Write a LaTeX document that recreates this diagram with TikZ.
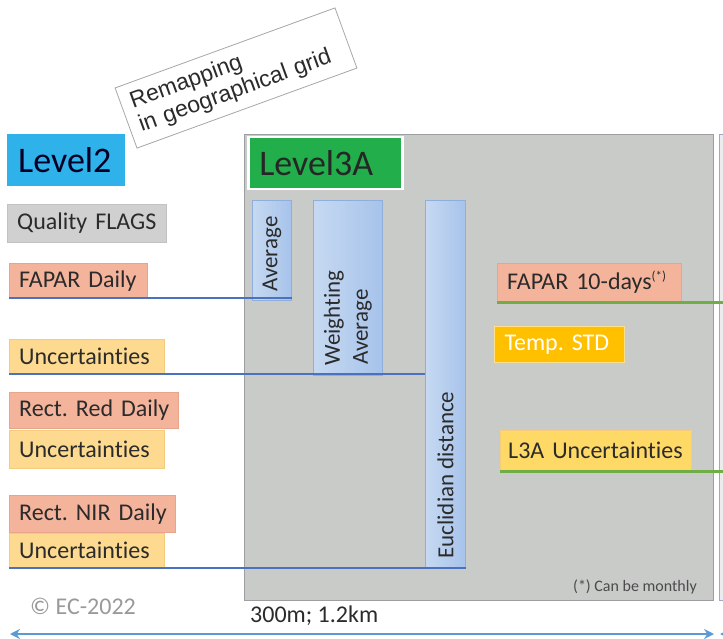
\documentclass[tikz,border=0pt]{standalone}
\usepackage{fontspec}
\setmainfont{Carlito}[Ligatures=NoCommon]
\newfontfamily\arialfont{Liberation Sans}
\usetikzlibrary{arrows.meta}
\frenchspacing
\hbadness=10000
\hfuzz=50pt

\definecolor{lvltwo}{HTML}{2FB2EA}
\definecolor{lvlthree}{HTML}{21AE4B}
\definecolor{flaggray}{HTML}{D0D0D0}
\definecolor{flagedge}{HTML}{C2C2C2}
\definecolor{salmon}{HTML}{F4B49C}
\definecolor{salmonedge}{HTML}{E9A58B}
\definecolor{uncfill}{HTML}{FDDA8F}
\definecolor{uncedge}{HTML}{F3CC80}
\definecolor{tempfill}{HTML}{FFC000}
\definecolor{tempedge}{HTML}{FFE08A}
\definecolor{l3afill}{HTML}{FFD966}
\definecolor{panelfill}{HTML}{C8CBC8}
\definecolor{paneledge}{HTML}{9C9EA2}
\definecolor{barleft}{HTML}{C6D9F1}
\definecolor{barright}{HTML}{A7C3EB}
\definecolor{baredge}{HTML}{8FAEDC}
\definecolor{linkblue}{HTML}{4A72C0}
\definecolor{linkgreen}{HTML}{70AD47}
\definecolor{scaleblue}{HTML}{5B9BD5}
\definecolor{textdark}{HTML}{2B2B2B}
\definecolor{nextedge}{HTML}{A4A4CC}

\tikzset{
  lbl/.style={anchor=north west, inner xsep=10pt, inner ysep=0pt, align=left,
    text=textdark, font=\fontsize{24}{28}\selectfont},
  titlebox/.style={anchor=north west, inner xsep=11pt, inner ysep=0pt, align=left,
    minimum height=52pt, font=\fontsize{36}{40}\selectfont},
  opbar/.style={anchor=north west, draw=baredge, line width=0.8pt,
    left color=barleft, right color=barright},
  bartext/.style={rotate=90, anchor=west, inner sep=0pt, align=left,
    text=textdark, font=\fontsize{23}{26}\selectfont},
  inlink/.style={linkblue, line width=2pt},
  outlink/.style={linkgreen, line width=2.2pt},
  scalebar/.style={scaleblue, line width=1.8pt},
}

\begin{document}
\begin{tikzpicture}[x=1pt, y=-1pt]
\useasboundingbox (0,0) rectangle (723,639);
\clip (0,0) rectangle (723,639);

% Level 3A processing panel and the start of the next panel
\node[draw=paneledge, fill=panelfill, line width=1pt, anchor=north west,
  minimum width=469pt, minimum height=466pt, inner sep=0pt] (panel) at (244,134) {};
\node[draw=nextedge, fill=gray!15, line width=1pt, anchor=north west,
  minimum width=60pt, minimum height=466pt, inner sep=0pt] (nextpanel) at (719,134) {};

% Remapping label
\node[draw=gray!70, fill=white, line width=0.8pt, rotate=20,
  minimum width=234pt, minimum height=64pt, text width=214pt, inner xsep=10pt,
  align=left, font=\arialfont\fontsize{23}{25}\selectfont, text=textdark]
  (remap) at (236,78) {Remapping\\in geographical grid};

% Level 2 inputs
\node[titlebox, fill=lvltwo, text=black!85!blue, minimum width=118pt, text width=96pt]
  (l2) at (7,134) {\mbox{Level2}};
\node[lbl, fill=flaggray, draw=flagedge, minimum height=38pt, text width=139pt]
  (flags) at (7,204) {\mbox{Quality FLAGS}};
\node[lbl, fill=salmon, draw=salmonedge, minimum height=35pt, text width=118pt]
  (fapard) at (9,263) {\mbox{FAPAR Daily}};
\node[lbl, fill=uncfill, draw=uncedge, minimum height=35pt, text width=135pt]
  (unca) at (9,339) {\mbox{Uncertainties}};
\node[lbl, fill=salmon, draw=salmonedge, minimum height=36pt, text width=149pt]
  (red) at (9,392) {\mbox{Rect. Red Daily}};
\node[lbl, fill=uncfill, draw=uncedge, minimum height=38pt, text width=135pt]
  (uncb) at (9,430) {\mbox{Uncertainties}};
\node[lbl, fill=salmon, draw=salmonedge, minimum height=37pt, text width=146pt]
  (nir) at (9,495) {\mbox{Rect. NIR Daily}};
\node[lbl, fill=uncfill, draw=uncedge, minimum height=35pt, text width=135pt]
  (uncc) at (9,533) {\mbox{Uncertainties}};

% Level 3A title
\node[titlebox, fill=lvlthree, draw=white, line width=2.5pt, text=black!85,
  minimum width=154pt, text width=132pt] (l3) at (247,136) {\mbox{Level3A}};

% Compositing operators
\node[opbar, minimum width=39pt, minimum height=100pt] (avg) at (252,200) {};
\node[bartext] at ([yshift=9pt]avg.south) {Average};
\node[opbar, minimum width=69pt, minimum height=175pt] (wavg) at (313,200) {};
\node[bartext, font=\fontsize{23}{28}\selectfont] at ([yshift=10pt]wavg.south) {Weighting\\\hspace*{1pt}Average};
\node[opbar, minimum width=40pt, minimum height=368pt] (eucl) at (425,200) {};
\node[bartext] at ([yshift=10pt]eucl.south) {Euclidian distance};

% Level 3A outputs
\node[lbl, fill=salmon, draw=salmonedge, minimum height=38pt, text width=164pt]
  (fapart) at (497,263) {\mbox{FAPAR 10-days\textsuperscript{\fontsize{13}{13}\selectfont(*)}}};
\node[lbl, fill=tempfill, draw=tempedge, line width=1pt, minimum height=36pt,
  text width=110pt, text=white] (tstd) at (494,326) {\mbox{Temp. STD}};
\node[lbl, fill=l3afill, draw=uncedge, minimum height=40pt, inner xsep=8pt,
  text width=175pt] (l3unc) at (500,430) {\mbox{L3A Uncertainties}};
\node[anchor=east, inner sep=0pt, text=textdark!85, font=\fontsize{16}{18}\selectfont]
  (note) at (697,587) {(*) Can be monthly};

% Links from inputs to operators
\draw[inlink] (fapard.south west) -- (fapard.south west -| avg.south east);
\draw[inlink] (unca.south west) -- (unca.south west -| eucl.west);
\draw[inlink] (uncc.south west) -- (uncc.south west -| eucl.south east);

% Links from outputs to the next level
\coordinate (outa) at (730,302);
\coordinate (outb) at (730,472);
\draw[outlink] ([yshift=-1pt]fapart.south west) -- ([yshift=-1pt]fapart.south west -| outa);
\draw[outlink] ([yshift=-1pt]l3unc.south west) -- ([yshift=-1pt]l3unc.south west -| outb);

% Resolution scale
\node[anchor=west, inner sep=0pt, text=gray!80, font=\fontsize{24}{28}\selectfont]
  (copy) at (30,606) {© EC-2022};
\node[anchor=west, inner sep=0pt, text=textdark, font=\fontsize{24}{28}\selectfont]
  (res) at (250,616) {300m; 1.2km};
\coordinate (sa) at (10,634);
\coordinate (sb) at (714,634);
\coordinate (sc) at (720,634);
\coordinate (sd) at (790,634);
\draw[scalebar, {Stealth[length=10pt,width=10pt]}-{Stealth[length=10pt,width=10pt]}] (sa) -- (sb);
\draw[scalebar, {Stealth[length=10pt,width=10pt]}-] (sc) -- (sd);
\end{tikzpicture}
\end{document}
